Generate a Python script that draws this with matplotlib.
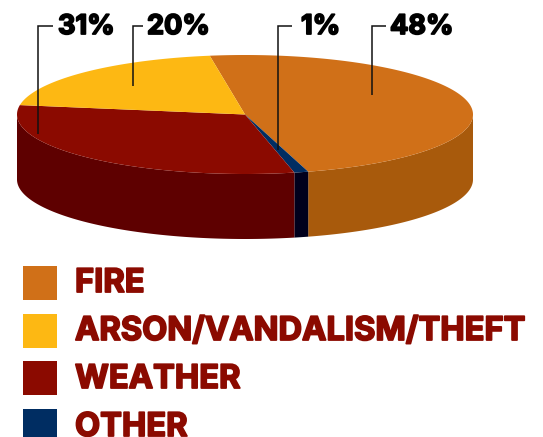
import numpy as np
import matplotlib
matplotlib.use("Agg")
import matplotlib.pyplot as plt
import matplotlib.patheffects as pe
from matplotlib.patches import Polygon, Rectangle

categories = ["FIRE", "ARSON/VANDALISM/THEFT", "WEATHER", "OTHER"]
values = [48, 20, 31, 1]
labels = ["48%", "20%", "31%", "1%"]
top_colors = ["#D07018", "#FDB813", "#8B0A00", "#002D62"]
side_colors = ["#A85A0C", "#C98F0E", "#5E0000", "#00001C"]

# drawing order around the pie (clockwise from the start angle)
order = [0, 3, 2, 1]
start_angle = 98.9
cx, cy, rx, ry, depth = 245, 114.5, 228, 59.5, 65

# leader lines: label x, elbow x, end x(=elbow), end y
leaders = {
    "31%": (58, 38, 53, 134),
    "20%": (147, 133, 143, 86),
    "1%": (301, 278, 292, 150),
    "48%": (390, 372, 386, 95),
}
legend_y = [266, 314, 361, 409]
legend_baseline = [292, 340, 388, 436]

W, H = 543, 437
fig = plt.figure(figsize=(W / 100, H / 100), dpi=100)
ax = fig.add_axes([0, 0, 1, 1])
ax.set_xlim(0, W)
ax.set_ylim(H, 0)
ax.axis("off")
FONT = "Inter"


def pt(theta_deg, dy=0.0):
    t = np.radians(theta_deg)
    return np.column_stack([cx + rx * np.cos(t), cy - ry * np.sin(t) + dy])


total = sum(values)
angles = {}
a = start_angle
for i in order:
    b = a - values[i] / total * 360
    angles[i] = (a, b)
    a = b

# side walls (only the front half of the ellipse is visible)
for i in order:
    a, b = angles[i]
    hi_v, lo_v = min(a, 0), max(b, -180)
    if hi_v > lo_v:
        th = np.linspace(hi_v, lo_v, 120)
        poly = np.vstack([pt(th), pt(th[::-1], depth)])
        ax.add_patch(Polygon(poly, closed=True, fc=side_colors[i], ec="none", zorder=2))

# top face
for i in order:
    a, b = angles[i]
    th = np.linspace(a, b, 240)
    poly = np.vstack([[cx, cy], pt(th)])
    ax.add_patch(Polygon(poly, closed=True, fc=top_colors[i], ec="none", zorder=3))

# leaders and percentage labels
for lab in labels:
    tx, ex, hx, ey = leaders[lab]
    ax.plot([hx, ex, ex], [26, 26, ey], color="#111111", lw=1.1, zorder=5,
            solid_joinstyle="miter", solid_capstyle="butt")
    ax.text(tx, 34, lab, fontsize=19.5, fontweight="bold", family=FONT, color="black",
            ha="left", va="baseline", zorder=6,
            path_effects=[pe.withStroke(linewidth=1.3, foreground="black")])

# legend
for cat, col, y, base in zip(categories, top_colors, legend_y, legend_baseline):
    ax.add_patch(Rectangle((23, y), 34, 34, fc=col, ec="none"))
    ax.text(75, base, cat, fontsize=23.5, fontweight="bold", family=FONT,
            color="#8B0A00", ha="left", va="baseline",
            path_effects=[pe.withStroke(linewidth=1.3, foreground="#8B0A00")])

fig.savefig("out.png", dpi=100)
